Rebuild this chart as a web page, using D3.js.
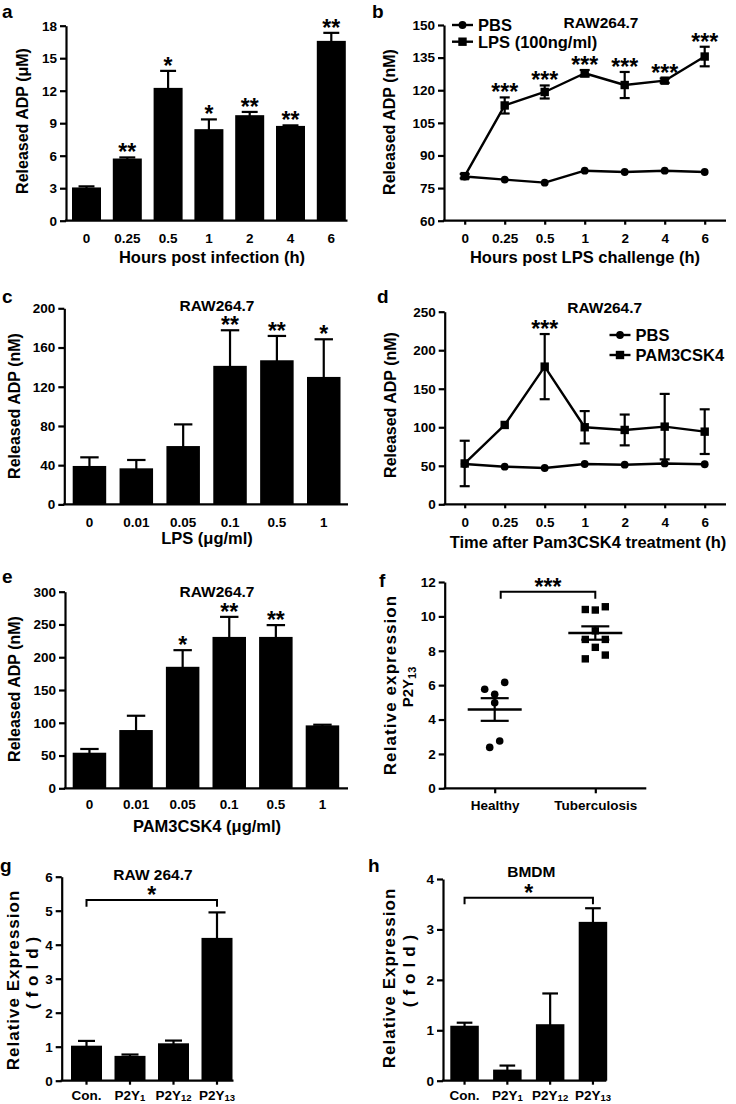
<!DOCTYPE html>
<html><head><meta charset="utf-8">
<script src="https://cdn.jsdelivr.net/npm/d3@7"></script>
<style>
body{margin:0;background:#fff;}
svg{display:block;}
</style></head><body>
<svg id="fig" width="736" height="1104"></svg>
<script>
// ---------------- DATA ----------------
// a
const aHours = ["0","0.25","0.5","1","2","4","6"];
const aADP   = [3.07, 5.74, 12.26, 8.45, 9.74, 8.75, 16.6];
const aSEM   = [0.1, 0.1, 1.57, 0.9, 0.3, 0.05, 0.74];
const aSig   = ["", "**", "*", "*", "**", "**", "**"];
const aTicks = [0, 3, 6, 9, 12, 15, 18];
// b
const bHours  = ["0","0.25","0.5","1","2","4","6"];
const bPBS    = [80.3, 78.9, 77.5, 83.0, 82.4, 83.0, 82.4];
const bLPS    = [80.5, 113.0, 119.2, 127.8, 122.4, 124.4, 135.5];
const bLPSSEM = [1.0, 3.7, 3.0, 1.5, 6.0, 1.0, 4.5];
const bSig    = ["", "***", "***", "***", "***", "***", "***"];
const bTicks  = [60, 75, 90, 105, 120, 135, 150];
// c
const cDose  = ["0","0.01","0.05","0.1","0.5","1"];
const cADP   = [39.2, 36.8, 59.5, 141.3, 147.0, 130.0];
const cSEM   = [8.8, 8.5, 22.1, 36.3, 24.8, 38.4];
const cSig   = ["", "", "", "**", "**", "*"];
const cTicks = [0, 40, 80, 120, 160, 200];
// d
const dHours  = ["0","0.25","0.5","1","2","4","6"];
const dPBS    = [52.3, 48.8, 47.1, 52.3, 51.4, 53.0, 52.0];
const dPAM    = [53.0, 103.0, 178.7, 100.0, 96.5, 100.8, 94.3];
const dPAMSEM = [29.5, 0, 42.3, 21.0, 20.0, 42.5, 29.0];
const dSig    = ["", "", "***", "", "", "", ""];
const dTicks  = [0, 50, 100, 150, 200, 250];
// e
const eDose  = ["0","0.01","0.05","0.1","0.5","1"];
const eADP   = [54.3, 88.9, 185.4, 231.0, 231.0, 96.0];
const eSEM   = [5.7, 21.8, 25.4, 30.6, 18.0, 1.0];
const eSig   = ["", "", "*", "**", "**", ""];
const eTicks = [0, 50, 100, 150, 200, 250, 300];
// f
const fGroups  = ["Healthy", "Tuberculosis"];
const fHealthy = [5.76, 5.47, 6.16, 4.98, 2.38, 2.75];
const fTB      = [10.4, 10.37, 10.56, 8.66, 9.16, 8.66, 7.53, 8.2, 7.75];
const fSig     = "***";
const fTicks   = [0, 2, 4, 6, 8, 10, 12];
// g
const gGenes = ["Con.", "P2Y1", "P2Y12", "P2Y13"];
const gExpr  = [1.03, 0.73, 1.1, 4.2];
const gSEM   = [0.14, 0.04, 0.08, 0.75];
const gSig   = "*";
const gTicks = [0, 1, 2, 3, 4, 5, 6];
// h
const hGenes = ["Con.", "P2Y1", "P2Y12", "P2Y13"];
const hExpr  = [1.09, 0.22, 1.12, 3.15];
const hSEM   = [0.06, 0.08, 0.61, 0.27];
const hSig   = "*";
const hTicks = [0, 1, 2, 3, 4];

// ---------------- DRAWING ----------------
const FONT = '"Liberation Sans", Arial, Helvetica, sans-serif';
const svg = d3.select("#fig").attr("font-family", FONT).attr("font-weight", "bold");
const TICK_FS = 13.5, TITLE_FS = 15.5, XT_FS = 16.5, YT_FS = 16, LEG_FS = 16.5, STAR_FS = 23, LET_FS = 19;
const SW = 2.2;

function styleText(sel, fs) {
  sel.attr("font-size", fs).attr("font-weight", "bold").attr("font-family", FONT).attr("fill", "#000");
}
function yAxis(g, y, ticks, x0) {
  const gg = g.append("g").attr("transform", `translate(${x0},0)`)
    .call(d3.axisLeft(y).tickValues(ticks).tickFormat(d3.format("d")).tickSize(6).tickSizeOuter(0).tickPadding(3));
  gg.select(".domain").attr("stroke", "#000").attr("stroke-width", SW);
  gg.selectAll(".tick line").attr("stroke", "#000").attr("stroke-width", SW);
  styleText(gg.selectAll("text"), TICK_FS);
}
function subscriptLabels(sel) {
  sel.each(function() {
    const t = d3.select(this), s = t.text(), m = s.match(/^P2Y(\d+)$/);
    if (m) {
      t.text("P2Y");
      t.append("tspan").attr("font-size", 9.5).attr("dy", 0.5).text(m[1]);
    }
  });
}
function xAxis(g, x, y0, x0, x1, labelOffset, tickSize) {
  g.append("line").attr("x1", x0 - 1.1).attr("x2", x1).attr("y1", y0).attr("y2", y0)
    .attr("stroke", "#000").attr("stroke-width", SW);
  const pad = labelOffset - 0.352 * TICK_FS - tickSize;
  const gg = g.append("g").attr("transform", `translate(0,${y0})`)
    .call(d3.axisBottom(x).tickSize(tickSize).tickPadding(pad));
  gg.select(".domain").remove();
  gg.selectAll(".tick line").attr("stroke", "#000").attr("stroke-width", SW).attr("opacity", tickSize ? 1 : 0);
  styleText(gg.selectAll("text"), TICK_FS);
  subscriptLabels(gg.selectAll("text"));
}
function text(g, s, x, yCenter, fs, anchor = "middle") {
  return g.append("text").attr("x", x).attr("y", yCenter + 0.358 * fs).attr("text-anchor", anchor)
    .attr("font-size", fs).attr("fill", "#000").text(s);
}
function yTitle(g, s, xc, yc, fs = YT_FS, ls = 0) {
  return g.append("text").attr("transform", `translate(${xc},${yc}) rotate(-90)`)
    .attr("dy", "0.35em").attr("text-anchor", "middle").attr("font-size", fs)
    .attr("letter-spacing", ls).attr("fill", "#000").text(s);
}
function letter(g, s, x, y) {
  g.append("text").attr("x", x).attr("y", y).attr("font-size", LET_FS).attr("fill", "#000").text(s);
}
// star glyph centred about 8px above the reference y
function star(g, s, x, refY) {
  g.append("text").attr("x", x).attr("y", refY + 3)
    .attr("text-anchor", "middle").attr("font-size", STAR_FS).attr("fill", "#000").text(s);
}
function bandScale(cats, x0, firstStart, step, width) {
  const pi = 1 - width / step, po = (firstStart - x0) / step;
  const x1 = x0 + step * (cats.length - pi + 2 * po);
  return d3.scaleBand().domain(cats).range([x0, x1]).paddingInner(pi).paddingOuter(po);
}

function barPanel(cfg) {
  const g = svg.append("g");
  const y = d3.scaleLinear().domain(cfg.ydom).range(cfg.yrange);
  const x = bandScale(cfg.cats, cfg.x0, cfg.first, cfg.step, cfg.width);
  const bw = x.bandwidth();
  g.selectAll("rect.bar").data(cfg.vals).join("rect")
    .attr("x", (d, i) => x(cfg.cats[i])).attr("width", bw)
    .attr("y", d => y(d)).attr("height", d => y(0) - y(d)).attr("fill", "#000");
  const cw = bw * 0.55;
  cfg.vals.forEach((v, i) => {
    const cx = x(cfg.cats[i]) + bw / 2, top = y(v + cfg.err[i]);
    if (cfg.err[i] > 0) {
      g.append("line").attr("x1", cx).attr("x2", cx).attr("y1", y(v) + 1).attr("y2", top)
        .attr("stroke", "#000").attr("stroke-width", SW);
      g.append("line").attr("x1", cx - cw / 2).attr("x2", cx + cw / 2).attr("y1", top).attr("y2", top)
        .attr("stroke", "#000").attr("stroke-width", SW);
    }
    if (cfg.sig && cfg.sig[i]) star(g, cfg.sig[i], cx, top);
  });
  yAxis(g, y, cfg.ticks, cfg.x0);
  xAxis(g, x, y(cfg.ydom[0]), cfg.x0, cfg.xend, cfg.labOff, cfg.tickSize || 0);
  return { g, x, y, bw };
}

function marker(g, type, x, y) {
  if (type === "circle") g.append("circle").attr("cx", x).attr("cy", y).attr("r", 3.9).attr("fill", "#000");
  else g.append("rect").attr("x", x - 4.2).attr("y", y - 4.2).attr("width", 8.4).attr("height", 8.4).attr("fill", "#000");
}

function linePanel(cfg) {
  const g = svg.append("g");
  const y = d3.scaleLinear().domain(cfg.ydom).range(cfg.yrange);
  const x = d3.scalePoint().domain(cfg.cats).range(cfg.xrange);
  const line = d3.line().x((d, i) => x(cfg.cats[i])).y(d => y(d));
  cfg.series.forEach(s => {
    g.append("path").datum(s.vals).attr("d", line).attr("fill", "none")
      .attr("stroke", "#000").attr("stroke-width", 2.4).attr("stroke-linejoin", "round");
    s.vals.forEach((v, i) => {
      const cx = x(cfg.cats[i]);
      const e = s.err ? s.err[i] : 0;
      if (e > 0) {
        g.append("line").attr("x1", cx).attr("x2", cx).attr("y1", y(v - e)).attr("y2", y(v + e))
          .attr("stroke", "#000").attr("stroke-width", SW);
        [v - e, v + e].forEach(t => g.append("line").attr("x1", cx - 5).attr("x2", cx + 5)
          .attr("y1", y(t)).attr("y2", y(t)).attr("stroke", "#000").attr("stroke-width", SW));
      }
      marker(g, s.marker, cx, y(v));
      if (s.sig && s.sig[i]) star(g, s.sig[i], cx, y(v + e));
    });
  });
  yAxis(g, y, cfg.ticks, cfg.x0);
  xAxis(g, x, y(cfg.ydom[0]), cfg.x0, cfg.xend, cfg.labOff, 4);
  // legend
  cfg.series.forEach((s, k) => {
    const ly = cfg.legY[k];
    g.append("line").attr("x1", cfg.legX).attr("x2", cfg.legX + 21).attr("y1", ly).attr("y2", ly)
      .attr("stroke", "#000").attr("stroke-width", 2.4);
    marker(g, s.marker, cfg.legX + 10.5, ly);
    text(g, s.name, cfg.legX + 26, ly, LEG_FS, "start");
  });
  return { g, x, y };
}

// ---- panel a ----
{
  const p = barPanel({ cats: aHours, vals: aADP, err: aSEM, sig: aSig, ticks: aTicks,
    ydom: [0, 18], yrange: [220.7, 25.7], x0: 66, first: 72, step: 40.8, width: 29, xend: 347.5, labOff: 17.3 });
  text(p.g, "Hours post infection (h)", 212, 257.5, XT_FS);
  yTitle(p.g, "Released ADP (\u03bcM)", 22, 121);
  letter(p.g, "a", 2, 18);
}
// ---- panel b ----
{
  const p = linePanel({ cats: bHours, ydom: [60, 150], yrange: [220.7, 25], xrange: [464.7, 704.7],
    x0: 444, xend: 726, ticks: bTicks, labOff: 17.6,
    series: [
      { name: "PBS", vals: bPBS, marker: "circle" },
      { name: "LPS (100ng/ml)", vals: bLPS, err: bLPSSEM, sig: bSig, marker: "square" }
    ], legX: 452, legY: [25, 41.7] });
  text(p.g, "RAW264.7", 601, 22.5, TITLE_FS);
  text(p.g, "Hours post LPS challenge (h)", 585, 257.5, XT_FS);
  yTitle(p.g, "Released ADP (nM)", 389.5, 122);
  letter(p.g, "b", 372, 18);
}
// ---- panel c ----
{
  const p = barPanel({ cats: cDose, vals: cADP, err: cSEM, sig: cSig, ticks: cTicks,
    ydom: [0, 200], yrange: [504.4, 308.3], x0: 64.3, first: 72.7, step: 46.86, width: 33.5, xend: 348, labOff: 17.3 });
  text(p.g, "RAW264.7", 217, 305.5, TITLE_FS);
  text(p.g, "LPS (\u03bcg/ml)", 207, 538.5, XT_FS);
  yTitle(p.g, "Released ADP (nM)", 14, 406);
  letter(p.g, "c", 2, 303);
}
// ---- panel d ----
{
  const p = linePanel({ cats: dHours, ydom: [0, 250], yrange: [504.3, 311.7], xrange: [464.7, 704.7],
    x0: 444.7, xend: 726, ticks: dTicks, labOff: 17.4,
    series: [
      { name: "PBS", vals: dPBS, marker: "circle" },
      { name: "PAM3CSK4", vals: dPAM, err: dPAMSEM, sig: dSig, marker: "square" }
    ], legX: 609.5, legY: [335, 355] });
  text(p.g, "RAW264.7", 604.7, 307.5, TITLE_FS);
  text(p.g, "Time after Pam3CSK4 treatment (h)", 588, 541.7, XT_FS);
  yTitle(p.g, "Released ADP (nM)", 390.5, 405);
  letter(p.g, "d", 377, 303);
}
// ---- panel e ----
{
  const p = barPanel({ cats: eDose, vals: eADP, err: eSEM, sig: eSig, ticks: eTicks,
    ydom: [0, 300], yrange: [788.3, 591.7], x0: 65, first: 72.7, step: 46.6, width: 33.5, xend: 348, labOff: 16 });
  text(p.g, "RAW264.7", 217, 591, TITLE_FS);
  text(p.g, "PAM3CSK4 (\u03bcg/ml)", 207, 826.5, XT_FS);
  yTitle(p.g, "Released ADP (nM)", 14, 689);
  letter(p.g, "e", 2, 583);
}
// ---- panel f ----
{
  const g = svg.append("g");
  const y = d3.scaleLinear().domain([0, 12]).range([788.3, 582]);
  const x = d3.scalePoint().domain(fGroups).range([494.7, 595.3]);
  const spacing = 10;
  function offsets(vals) {
    const idx = vals.map((v, i) => i).sort((a, b) => vals[b] - vals[a]);
    const groups = []; let cur = null;
    idx.forEach(i => {
      const py = y(vals[i]);
      if (cur && py - cur.top <= 13) cur.items.push(i);
      else { cur = { top: py, items: [i] }; groups.push(cur); }
    });
    const off = new Array(vals.length);
    groups.forEach(gr => { gr.items.sort((a, b) => a - b); const n = gr.items.length;
      gr.items.forEach((i, k) => off[i] = (k - (n - 1) / 2) * spacing); });
    return off;
  }
  [[fHealthy, "circle", fGroups[0]], [fTB, "square", fGroups[1]]].forEach(([vals, m, grp]) => {
    const off = offsets(vals), cx = x(grp);
    vals.forEach((v, i) => {
      if (m === "circle") g.append("circle").attr("cx", cx + off[i]).attr("cy", y(v)).attr("r", 3.8).attr("fill", "#000");
      else g.append("rect").attr("x", cx + off[i] - 3.7).attr("y", y(v) - 3.7).attr("width", 7.4).attr("height", 7.4).attr("fill", "#000");
    });
    const mean = d3.mean(vals), sem = d3.deviation(vals) / Math.sqrt(vals.length);
    g.append("line").attr("x1", cx - 27).attr("x2", cx + 27).attr("y1", y(mean)).attr("y2", y(mean))
      .attr("stroke", "#000").attr("stroke-width", 2.4);
    [mean - sem, mean + sem].forEach(t => g.append("line").attr("x1", cx - 14).attr("x2", cx + 14)
      .attr("y1", y(t)).attr("y2", y(t)).attr("stroke", "#000").attr("stroke-width", 2.2));
    g.append("line").attr("x1", cx).attr("x2", cx).attr("y1", y(mean - sem)).attr("y2", y(mean + sem))
      .attr("stroke", "#000").attr("stroke-width", 2.2);
  });
  // bracket
  const by = y(d3.max(fTB)) - 15;
  g.append("path").attr("d", `M${x(fGroups[0]) + 6},${by + 7}V${by}H${x(fGroups[1])}V${by + 7}`)
    .attr("fill", "none").attr("stroke", "#000").attr("stroke-width", 2);
  star(g, fSig, (x(fGroups[0]) + 6 + x(fGroups[1])) / 2, by);
  yAxis(g, y, fTicks, 444.7);
  xAxis(g, x, y(0), 444.7, 646.3, 17, 5);
  yTitle(g, "Relative expression", 390.5, 685, 17, 1.1);
  const t2 = g.append("text").attr("transform", `translate(408,687) rotate(-90)`)
    .attr("dy", "0.35em").attr("text-anchor", "middle").attr("font-size", 15).attr("fill", "#000");
  t2.append("tspan").text("P2Y");
  t2.append("tspan").attr("font-size", 11).attr("dy", 3).text("13");
  letter(g, "f", 379, 587);
}
// ---- panels g, h ----
function exprPanel(cfg) {
  const p = barPanel(cfg);
  const cx0 = p.x(cfg.cats[0]) + p.bw / 2, cx3 = p.x(cfg.cats[3]) + p.bw / 2;
  const by = p.y(cfg.vals[3] + cfg.err[3]) - cfg.brGap;
  p.g.append("path").attr("d", `M${cx0},${by + 6.7}V${by}H${cx3}V${by + 6.7}`)
    .attr("fill", "none").attr("stroke", "#000").attr("stroke-width", 2);
  star(p.g, cfg.star, (cx0 + cx3) / 2, by);
  return p;
}
{
  const p = exprPanel({ cats: gGenes, vals: gExpr, err: gSEM, ticks: gTicks, star: gSig, brGap: 12.3,
    ydom: [0, 6], yrange: [1080.7, 876.7], x0: 61.7, first: 71, step: 43.5, width: 31, xend: 233.5, labOff: 14.8, tickSize: 4 });
  text(p.g, "RAW 264.7", 153, 874.5, TITLE_FS);
  yTitle(p.g, "Relative Expression", 13, 980, 17, 1);
  yTitle(p.g, "(fold)", 32, 970, 17, 6);
  letter(p.g, "g", 0, 872);
}
{
  const p = exprPanel({ cats: hGenes, vals: hExpr, err: hSEM, ticks: hTicks, star: hSig, brGap: 10.6,
    ydom: [0, 4], yrange: [1080.7, 879], x0: 443, first: 450.3, step: 42.8, width: 28.5, xend: 606.3, labOff: 14.8, tickSize: 4 });
  text(p.g, "BMDM", 531.3, 871.5, TITLE_FS);
  yTitle(p.g, "Relative Expression", 389, 978, 17, 1);
  yTitle(p.g, "(fold)", 409, 968, 17, 6);
  letter(p.g, "h", 368, 872);
}
</script>
</body></html>
